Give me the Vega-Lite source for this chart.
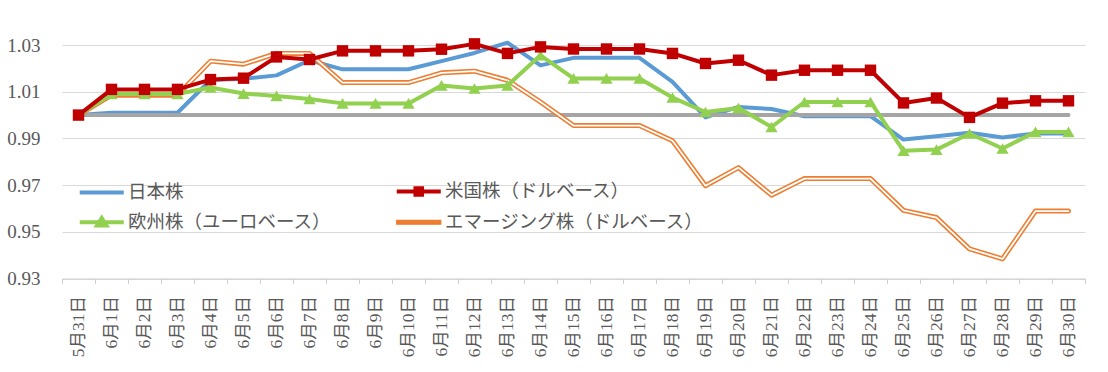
{
  "$schema": "https://vega.github.io/schema/vega-lite/v6.json",
  "width": 1023,
  "height": 268.5,
  "autosize": {"type": "none"},
  "padding": {"left": 62, "top": 10, "right": 23, "bottom": 93},
  "background": "white",
  "config": {"view": {"stroke": null}, "font": "Noto Sans CJK JP"},
  "datasets": {
    "raw": [
      {"d":"5月31日","jp":1.000,"us":1.000,"eu":1.000,"em":1.000,"base":1},
      {"d":"6月1日","jp":1.001,"us":1.011,"eu":1.009,"em":1.0085,"base":1},
      {"d":"6月2日","jp":1.001,"us":1.011,"eu":1.009,"em":1.0085,"base":1},
      {"d":"6月3日","jp":1.001,"us":1.011,"eu":1.009,"em":1.0085,"base":1},
      {"d":"6月4日","jp":1.015,"us":1.0152,"eu":1.0118,"em":1.0231,"base":1},
      {"d":"6月5日","jp":1.0155,"us":1.0158,"eu":1.0092,"em":1.0218,"base":1},
      {"d":"6月6日","jp":1.017,"us":1.0249,"eu":1.0082,"em":1.0264,"base":1},
      {"d":"6月7日","jp":1.0235,"us":1.0238,"eu":1.0069,"em":1.0264,"base":1},
      {"d":"6月8日","jp":1.0196,"us":1.0275,"eu":1.005,"em":1.0139,"base":1},
      {"d":"6月9日","jp":1.0196,"us":1.0275,"eu":1.005,"em":1.0139,"base":1},
      {"d":"6月10日","jp":1.0196,"us":1.0275,"eu":1.005,"em":1.0139,"base":1},
      {"d":"6月11日","jp":1.0231,"us":1.0282,"eu":1.0127,"em":1.0181,"base":1},
      {"d":"6月12日","jp":1.0266,"us":1.0305,"eu":1.0114,"em":1.0188,"base":1},
      {"d":"6月13日","jp":1.031,"us":1.0264,"eu":1.0127,"em":1.0149,"base":1},
      {"d":"6月14日","jp":1.0213,"us":1.0292,"eu":1.0256,"em":1.0056,"base":1},
      {"d":"6月15日","jp":1.0245,"us":1.0283,"eu":1.0157,"em":0.9955,"base":1},
      {"d":"6月16日","jp":1.0245,"us":1.0283,"eu":1.0157,"em":0.9955,"base":1},
      {"d":"6月17日","jp":1.0245,"us":1.0283,"eu":1.0157,"em":0.9955,"base":1},
      {"d":"6月18日","jp":1.0142,"us":1.0264,"eu":1.0075,"em":0.989,"base":1},
      {"d":"6月19日","jp":0.999,"us":1.0221,"eu":1.0013,"em":0.9697,"base":1},
      {"d":"6月20日","jp":1.0035,"us":1.0235,"eu":1.003,"em":0.9775,"base":1},
      {"d":"6月21日","jp":1.0026,"us":1.0171,"eu":0.9949,"em":0.9657,"base":1},
      {"d":"6月22日","jp":0.9995,"us":1.0192,"eu":1.0056,"em":0.9728,"base":1},
      {"d":"6月23日","jp":0.9995,"us":1.0192,"eu":1.0056,"em":0.9728,"base":1},
      {"d":"6月24日","jp":0.9995,"us":1.0192,"eu":1.0056,"em":0.9728,"base":1},
      {"d":"6月25日","jp":0.9895,"us":1.0052,"eu":0.9847,"em":0.9592,"base":1},
      {"d":"6月26日","jp":0.9909,"us":1.0073,"eu":0.9852,"em":0.9561,"base":1},
      {"d":"6月27日","jp":0.9924,"us":0.999,"eu":0.9921,"em":0.9427,"base":1},
      {"d":"6月28日","jp":0.9904,"us":1.0051,"eu":0.9857,"em":0.9384,"base":1},
      {"d":"6月29日","jp":0.9921,"us":1.0061,"eu":0.9928,"em":0.9589,"base":1},
      {"d":"6月30日","jp":0.9921,"us":1.0061,"eu":0.9928,"em":0.9589,"base":1}
    ]
  },
  "data": {"name": "raw"},
  "transform": [
    {"fold": ["jp", "us", "eu", "em", "base"], "as": ["k", "v"]},
    {"lookup": "k", "from": {"data": {"values": [
      {"k": "jp", "s": "日本株"},
      {"k": "us", "s": "米国株（ドルベース）"},
      {"k": "eu", "s": "欧州株（ユーロベース）"},
      {"k": "em", "s": "エマージング株（ドルベース）"},
      {"k": "base", "s": "基準"}
    ]}, "key": "k", "fields": ["s"]}}
  ],
  "encoding": {
    "x": {
      "field": "d", "type": "ordinal",
      "scale": {"type": "band", "paddingInner": 0, "paddingOuter": 0,
        "domain": ["5月31日","6月1日","6月2日","6月3日","6月4日","6月5日","6月6日","6月7日","6月8日","6月9日","6月10日","6月11日","6月12日","6月13日","6月14日","6月15日","6月16日","6月17日","6月18日","6月19日","6月20日","6月21日","6月22日","6月23日","6月24日","6月25日","6月26日","6月27日","6月28日","6月29日","6月30日"]},
      "bandPosition": 0.5,
      "axis": {
        "title": null, "labelAngle": -90, "labelAlign": "right", "labelBaseline": "middle",
        "labelFont": "Liberation Serif, Noto Sans CJK JP", "labelFontSize": 17.5, "labelColor": "#595959",
        "tickBand": "extent", "tickColor": "#D0D0D0", "tickSize": 5, "domainColor": "#D0D0D0",
        "labelPadding": 12, "grid": false
      }
    },
    "y": {
      "field": "v", "type": "quantitative",
      "scale": {"domain": [0.93, 1.045], "nice": false, "zero": false},
      "axis": {
        "title": null, "values": [0.93, 0.95, 0.97, 0.99, 1.01, 1.03], "format": ".2f",
        "grid": true, "gridColor": "#D9D9D9", "ticks": false, "domain": false,
        "labelPadding": 22, "labelFont": "Liberation Serif", "labelFontSize": 19, "labelColor": "#595959"
      }
    },
    "color": {
      "field": "s", "type": "nominal",
      "scale": {
        "domain": ["日本株", "欧州株（ユーロベース）", "米国株（ドルベース）", "エマージング株（ドルベース）"],
        "range": ["#5B9BD5", "#92D050", "#C00000", "#ED7D31"]
      },
      "legend": {
        "title": null, "orient": "none", "legendX": 17, "legendY": 172,
        "columns": 2, "columnPadding": 56, "rowPadding": 7, "padding": 0,
        "labelFont": "Noto Sans CJK JP", "labelFontSize": 18.5, "labelColor": "#595959", "labelLimit": 400,
        "symbolSize": 121, "symbolStrokeWidth": 0, "symbolOffset": 13.5, "labelOffset": 17,
        "encode": {
          "symbols": {
            "update": {
              "shape": {"signal": "datum.value === '日本株' ? 'M-4,0H4' : datum.value === '米国株（ドルベース）' ? 'M-4,0H4M-0.6,-0.6H0.6V0.6H-0.6Z' : datum.value === '欧州株（ユーロベース）' ? 'M-4,0H4M0,-0.75L0.85,0.6H-0.85Z' : 'M-4,-0.35H4V0.35H-4Z'"},
              "fill": {"signal": "datum.value === '日本株' ? '#5B9BD5' : datum.value === '米国株（ドルベース）' ? '#C00000' : datum.value === '欧州株（ユーロベース）' ? '#92D050' : '#FFFFFF'"},
              "stroke": {"signal": "datum.value === '日本株' ? '#5B9BD5' : datum.value === '米国株（ドルベース）' ? '#C00000' : datum.value === '欧州株（ユーロベース）' ? '#92D050' : '#ED7D31'"},
              "strokeWidth": {"signal": "datum.value === 'エマージング株（ドルベース）' ? 1.3 : 4"},
              "opacity": {"value": 1},
              "fillOpacity": {"value": 1},
              "strokeOpacity": {"value": 1}
            }
          }
        }
      }
    }
  },
  "layer": [
    {
      "transform": [{"filter": "datum.k === 'jp'"}],
      "mark": {"type": "line", "strokeWidth": 4, "strokeJoin": "round", "strokeCap": "round"}
    },
    {
      "transform": [{"filter": "datum.k === 'base'"}],
      "mark": {"type": "line", "strokeWidth": 4, "strokeCap": "round"},
      "encoding": {"color": {"value": "#A5A5A5"}}
    },
    {
      "transform": [{"filter": "datum.k === 'em'"}],
      "mark": {"type": "line", "strokeWidth": 5, "strokeJoin": "round", "strokeCap": "round"}
    },
    {
      "transform": [{"filter": "datum.k === 'em'"}],
      "mark": {"type": "line", "strokeWidth": 1.8, "strokeJoin": "round", "strokeCap": "round"},
      "encoding": {"color": {"value": "#FFFFFF"}}
    },
    {
      "transform": [{"filter": "datum.k === 'eu'"}],
      "mark": {"type": "line", "strokeWidth": 4, "strokeJoin": "round", "strokeCap": "round"}
    },
    {
      "transform": [{"filter": "datum.k === 'eu'"}],
      "mark": {"type": "point", "filled": true, "shape": "triangle-up", "size": 150, "opacity": 1}
    },
    {
      "transform": [{"filter": "datum.k === 'us'"}],
      "mark": {"type": "line", "strokeWidth": 4, "strokeJoin": "round", "strokeCap": "round"}
    },
    {
      "transform": [{"filter": "datum.k === 'us'"}],
      "mark": {"type": "point", "filled": true, "shape": "square", "size": 130, "opacity": 1}
    }
  ]
}
